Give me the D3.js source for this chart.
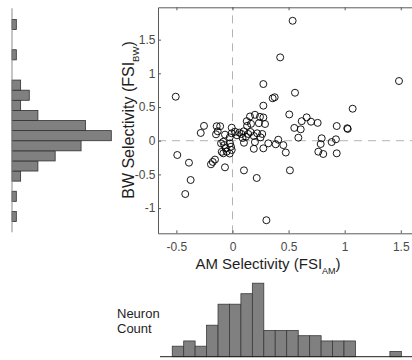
<!DOCTYPE html>
<html><head><meta charset="utf-8">
<script src="https://cdn.jsdelivr.net/npm/d3@7"></script>
<style>
html,body{margin:0;padding:0;background:#fff;}
svg{display:block;font-family:"Liberation Sans",Arial,Helvetica,sans-serif;}
</style></head><body>
<svg id="chart" width="412" height="360"></svg>
<script>
// Scatter data: AM selectivity (x) and BW selectivity (y) per neuron
const amFSI = [
 -0.506,-0.492,-0.421,-0.388,-0.373,-0.283,-0.254,
 -0.192,-0.176,-0.156,-0.147,-0.141,-0.132,
 -0.110,-0.067,-0.082,-0.052,-0.096,-0.073,-0.061,-0.102,-0.082,-0.067,
 -0.025,-0.025,-0.022,-0.013,-0.007,-0.007,-0.007,0.022,0.040,0.060,
 0.102,0.102,0.156,0.127,0.080,0.090,0.120,0.140,0.160,0.100,0.130,0.165,
 0.216,0.275,0.275,0.200,0.245,0.275,0.190,0.275,0.190,0.220,0.250,0.200,0.235,0.265,
 0.302,0.358,0.376,0.290,0.319,
 0.425,0.385,0.408,0.453,0.475,
 0.512,0.536,0.557,0.506,0.551,
 0.661,0.608,0.617,0.587,
 0.700,0.759,0.765,0.786,
 0.795,0.809,0.884,
 0.929,0.922,0.929,
 1.023,1.027,1.071,
 1.484
];
const bwFSI = [
 0.653,-0.212,-0.791,-0.326,-0.583,0.115,0.220,
 -0.350,-0.315,-0.280,0.095,0.215,0.140,
 0.215,-0.395,-0.187,-0.163,-0.165,-0.064,-0.113,-0.039,-0.015,0.090,
 -0.190,0.050,-0.039,-0.089,-0.138,0.110,0.193,0.134,0.080,0.120,
 -0.440,-0.030,0.360,0.290,0.100,0.040,0.060,0.100,0.130,0.140,0.220,0.250,
 -0.553,0.841,0.520,0.385,0.355,0.345,-0.120,-0.113,0.070,0.110,0.050,-0.020,0.260,0.100,
 -1.180,0.630,0.645,0.248,-0.039,
 1.237,-0.053,0.015,-0.065,-0.175,
 -0.440,1.780,0.712,0.390,0.190,
 0.347,0.169,0.290,0.045,
 0.282,0.265,-0.163,-0.049,
 0.036,-0.197,-0.020,
 0.218,0.021,-0.187,
 0.185,0.175,0.475,
 0.886
];
// Marginal histogram of BW selectivity (left)
const bwBinEdges = [-1.2,-1.05,-0.9,-0.75,-0.6,-0.45,-0.3,-0.15,0,0.15,0.3,0.45,0.6,0.75,0.9,1.05,1.2,1.35,1.5,1.65,1.8];
const bwCounts   = [1,0,1,0,2,6,10,16,23,17,6,2,4,2,0,0,1,0,0,1];
// Marginal histogram of AM selectivity (bottom)
const amBinEdges = [-0.537,-0.435,-0.333,-0.231,-0.129,-0.027,0.075,0.177,0.279,0.381,0.483,0.586,0.688,0.790,0.892,0.994,1.096,1.198,1.300,1.403,1.505];
const amCounts   = [2,3,2,6,10,10,12,14,5,5,5,4,4,3,3,3,0,0,0,1];
// Ticks
const xTicks = [-0.5,0,0.5,1,1.5];
const xTickLabels = ["-0.5","0","0.5","1","1.5"];
const yTicks = [-1,-0.5,0,0.5,1,1.5];
const yTickLabels = ["-1","-0.5","0","0.5","1","1.5"];

const svg = d3.select("#chart");
const x = d3.scaleLinear().domain([-0.664, 1.6]).range([158, 412]);
const y = d3.scaleLinear().domain([-1.374, 1.98]).range([233.3, 7.3]);

const axisColor = "#5a5a5a", tickTextColor = "#4a4a4a", labelColor = "#1e1e1e";

// reference lines
svg.append("line").attr("x1", x(0)).attr("x2", x(0)).attr("y1", y.range()[0]).attr("y2", y.range()[1])
  .attr("stroke", "#b3b3b3").attr("stroke-width", 1).attr("stroke-dasharray", "8,6");
svg.append("line").attr("x1", x.range()[0]).attr("x2", x.range()[1]).attr("y1", y(0)).attr("y2", y(0))
  .attr("stroke", "#b3b3b3").attr("stroke-width", 1).attr("stroke-dasharray", "8,6");

// axes
function styleAxis(g){
  g.select(".domain").attr("stroke", axisColor);
  g.selectAll(".tick line").attr("stroke", axisColor);
  g.selectAll(".tick text").attr("fill", tickTextColor).attr("font-size", 12)
    .attr("font-family", '"Liberation Sans",Arial,sans-serif');
  g.attr("font-family", null).attr("font-size", null);
}
const gx = svg.append("g").attr("transform", `translate(0,${y.range()[0]})`)
  .call(d3.axisBottom(x).tickValues(xTicks).tickFormat((d,i)=>xTickLabels[i]).tickSizeInner(-3).tickSizeOuter(0).tickPadding(9.5));
styleAxis(gx);
const gxt = svg.append("g").attr("transform", `translate(0,${y.range()[1]})`)
  .call(d3.axisTop(x).tickValues(xTicks).tickFormat("").tickSizeInner(-3).tickSizeOuter(0));
styleAxis(gxt);
const gy = svg.append("g").attr("transform", `translate(${x.range()[0]},0)`)
  .call(d3.axisLeft(y).tickValues(yTicks).tickFormat((d,i)=>yTickLabels[i]).tickSizeInner(-3).tickSizeOuter(0).tickPadding(2.5));
styleAxis(gy);

// scatter points
svg.append("g").selectAll("circle").data(amFSI.map((v,i)=>[v,bwFSI[i]])).join("circle")
  .attr("cx", d=>x(d[0])).attr("cy", d=>y(d[1])).attr("r", 3.5)
  .attr("fill", "none").attr("stroke", "#000").attr("stroke-width", 0.9);

// axis labels
const xl = svg.append("text").attr("x", 268).attr("y", 269).attr("text-anchor", "middle")
  .attr("font-size", 15).attr("fill", labelColor);
xl.append("tspan").text("AM Selectivity (FSI");
xl.append("tspan").attr("font-size", 9).attr("dy", 5).text("AM");
xl.append("tspan").attr("dy", -5).text(")");

const yl = svg.append("text").attr("transform", "translate(134,120) rotate(-90)").attr("text-anchor", "middle")
  .attr("font-size", 16).attr("fill", labelColor);
yl.append("tspan").text("BW Selectivity (FSI");
yl.append("tspan").attr("font-size", 9.5).attr("dy", 5).text("BW");
yl.append("tspan").attr("dy", -5).text(")");

// left histogram (horizontal bars)
const hx = d3.scaleLinear().domain([0, 23]).range([12, 111.3]);
svg.append("g").selectAll("rect").data(bwCounts.map((c,i)=>({c, lo: bwBinEdges[i], hi: bwBinEdges[i+1]})).filter(d=>d.c>0))
  .join("rect")
  .attr("x", hx(0)).attr("y", d=>y(d.hi)).attr("width", d=>hx(d.c)-hx(0)).attr("height", d=>y(d.lo)-y(d.hi))
  .attr("fill", "#808080").attr("stroke", "#303030").attr("stroke-width", 0.8);
svg.append("line").attr("x1", hx(0)).attr("x2", hx(0)).attr("y1", y.range()[0]-1).attr("y2", y.range()[1]+1)
  .attr("stroke", "#8a8a8a").attr("stroke-width", 1);

// bottom histogram
const hy = d3.scaleLinear().domain([0, 14]).range([356.7, 283.2]);
svg.append("g").selectAll("rect").data(amCounts.map((c,i)=>({c, lo: amBinEdges[i], hi: amBinEdges[i+1]})).filter(d=>d.c>0))
  .join("rect")
  .attr("x", d=>x(d.lo)).attr("y", d=>hy(d.c)).attr("width", d=>x(d.hi)-x(d.lo)).attr("height", d=>hy(0)-hy(d.c))
  .attr("fill", "#808080").attr("stroke", "#3a3a3a").attr("stroke-width", 0.8);
svg.append("line").attr("x1", x.range()[0]+2).attr("x2", x.range()[1]).attr("y1", hy(0)).attr("y2", hy(0))
  .attr("stroke", "#1e1e1e").attr("stroke-width", 1);

// Neuron Count label
const nc = svg.append("text").attr("font-size", 13).attr("fill", labelColor);
nc.append("tspan").attr("x", 117).attr("y", 318).text("Neuron");
nc.append("tspan").attr("x", 117).attr("y", 333).text("Count");
</script>
</body></html>
